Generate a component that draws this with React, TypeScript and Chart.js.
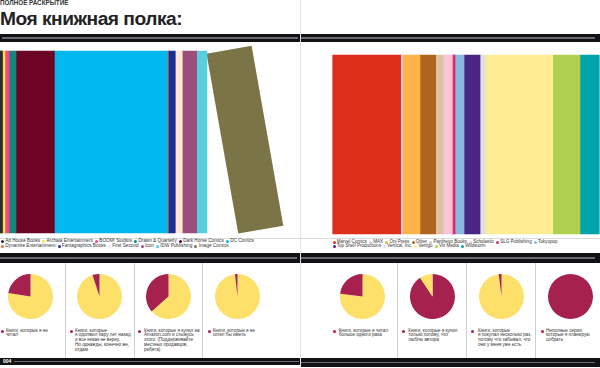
import React, { useEffect, useRef } from "react";
import { Chart, registerables } from "chart.js";
Chart.register(...registerables);

// ---------- DATA ----------
const leftLabels = ["Ad House Books", "Archaia Entertainment", "BOOM! Studios", "Drawn & Quarterly", "Dark Horse Comics", "DC Comics", "Dynamite Entertainment", "Fantagraphics Books", "First Second", "Icon", "IDW Publishing", "Image Comics"];
const leftValues = [2.5, 2.5, 4, 7, 38.3, 112.7, 1, 7, 7, 14.3, 10.3, 45];
const leftColors = ["#2b2b2b", "#f7e23c", "#ff3f8e", "#16857b", "#6b0523", "#00b7ee", "#f26a3b", "#1a2f92", "#fde8d2", "#9c4d7b", "#58cfe0", "#7a7446"];

const rightLabels = ["Marvel Comics", "MAX", "Oni Press", "Other", "Pantheon Books", "Scholastic", "SLG Publishing", "Tokyopop", "Top Shelf Productions", "Vertical, Inc.", "Vertigo", "Viz Media", "Wildstorm"];
const rightValues = [68, 2, 17.3, 15.7, 7.7, 9, 2.7, 9, 16, 5, 67.7, 27.3, 19.3];
const rightColors = ["#dd2e1a", "#d9c3e3", "#ffb347", "#b0651f", "#dcc1a5", "#ffc2d7", "#d6336c", "#88b8e2", "#4a2583", "#dde1e6", "#feec92", "#afd04f", "#00a4ad"];

const pieTexts = [
  "Книги, которые я не\nчитал",
  "Книги, которые\nя одолжил пару лет назад\nи все никак не верну.\nНо однажды, конечно же,\nотдам",
  "Книги, которые я купил на\nAmazon.com и стыжусь\nэтого. (Поддерживайте\nместных продавцов,\nребята)",
  "Книги, которые я не\nхотел бы иметь",
  "Книги, которые я читал\nбольше одного раза",
  "Книги, которые я купил\nтолько потому, что\nлюблю автора",
  "Книги, которые\nя покупал несколько раз,\nпотому что забывал, что\nони у меня уже есть",
  "Неполные серии,\nкоторые я планирую\nсобрать",
];
const pieMarked = [22.5, 5, 36.5, 1.8, 23, 90.7, 2, 100];
const pieRest = [77.5, 95, 63.5, 98.2, 77, 9.3, 98, 0];

const BURGUNDY = "#a7214f";
const YELLOW = "#fde06a";
const FONT = '"Liberation Sans", Arial, sans-serif';

// ---------- LAYOUT (positions only) ----------
const pieCenters: [number, number][] = [[30, 296], [99, 296], [168, 296], [237, 296], [362, 296], [432, 296], [501, 296], [570, 296]];
const pieLegendX: [number, number][] = [[2.7, 5.7], [71, 75], [139.3, 144], [209.3, 212.7], [334.3, 338.7], [403.7, 408.3], [472.7, 478], [542, 546]];
const separatorsX = [65, 134, 202, 397, 466, 535];

const leanPlugin = {
  id: "lean",
  beforeDatasetDraw(chart: any, args: any, opts: any) {
    if (opts == null || args.index !== opts.index) return;
    const el = args.meta.data[0];
    const p = el.getProps(["x", "base", "y", "height"], true);
    const px = Math.min(p.base, p.x);
    const py = p.y - p.height / 2;
    const ctx = chart.ctx;
    ctx.save();
    ctx.translate(px, py + (opts.drop || 0));
    ctx.rotate((-opts.angle * Math.PI) / 180);
    ctx.translate(-px, -py);
  },
  afterDatasetDraw(chart: any, args: any, opts: any) {
    if (opts == null || args.index !== opts.index) return;
    chart.ctx.restore();
  },
};

function Shelf(props: { labels: string[]; values: number[]; colors: string[]; box: any; padding: any; lean?: any }) {
  const ref = useRef<HTMLCanvasElement>(null);
  useEffect(() => {
    const total = props.values.reduce((a, b) => a + b, 0);
    const chart = new Chart(ref.current!, {
      type: "bar",
      data: {
        labels: [""],
        datasets: props.values.map((v, i) => ({
          label: props.labels[i],
          data: [v],
          backgroundColor: props.colors[i],
          borderWidth: 0,
          barPercentage: 1,
          categoryPercentage: 1,
          clip: false as any,
        })),
      },
      options: {
        indexAxis: "y",
        animation: false,
        responsive: true,
        maintainAspectRatio: false,
        layout: { padding: props.padding },
        scales: {
          x: { stacked: true, display: false, min: 0, max: total },
          y: { stacked: true, display: false },
        },
        plugins: {
          legend: { display: false },
          tooltip: { enabled: false },
          lean: props.lean || { index: -1, angle: 0 },
        } as any,
      },
      plugins: [leanPlugin as any],
    });
    return () => chart.destroy();
  }, []);
  return (
    <div style={{ position: "absolute", ...props.box }}>
      <canvas ref={ref} />
    </div>
  );
}

function Legend(props: { labels: string[]; colors: string[]; left: number; top: number; width: number; size: number }) {
  return (
    <div
      style={{
        position: "absolute",
        left: props.left,
        top: props.top,
        width: props.width,
        display: "flex",
        flexWrap: "wrap",
        fontFamily: FONT,
        fontSize: props.size,
        lineHeight: "4.7px",
        color: "#333",
        whiteSpace: "nowrap",
      }}
    >
      {props.labels.map((l, i) => (
        <span key={i} style={{ display: "inline-flex", alignItems: "center", marginRight: 2.2 }}>
          <span style={{ width: 3, height: 3, borderRadius: "50%", background: props.colors[i], marginRight: 1.2, display: "inline-block", flex: "none" }} />
          {l}
        </span>
      ))}
    </div>
  );
}

function Pie(props: { marked: number; rest: number; cx: number; cy: number }) {
  const ref = useRef<HTMLCanvasElement>(null);
  useEffect(() => {
    const slices = [
      { v: props.rest, c: YELLOW },
      { v: props.marked, c: BURGUNDY },
    ].sort((a, b) => b.v - a.v);
    const chart = new Chart(ref.current!, {
      type: "pie",
      data: {
        labels: slices.map((s) => (s.c === BURGUNDY ? "marked" : "rest")),
        datasets: [{ data: slices.map((s) => s.v), backgroundColor: slices.map((s) => s.c), borderWidth: 0 }],
      },
      options: {
        animation: false,
        responsive: true,
        maintainAspectRatio: false,
        layout: { padding: 0 },
        plugins: { legend: { display: false }, tooltip: { enabled: false } },
      },
    });
    return () => chart.destroy();
  }, []);
  const d = 45;
  return (
    <div style={{ position: "absolute", left: props.cx - d / 2, top: props.cy - d / 2, width: d, height: d }}>
      <canvas ref={ref} />
    </div>
  );
}

function Rect(p: { l: number; t: number; w: number; h: number; c: string }) {
  return <div style={{ position: "absolute", left: p.l, top: p.t, width: p.w, height: p.h, background: p.c }} />;
}

export default function App() {
  useEffect(() => {
    document.body.style.margin = "0";
  }, []);
  return (
    <div style={{ position: "fixed", left: 0, top: 0, width: 600, height: 368, background: "#fff", overflow: "hidden", fontFamily: FONT }}>
      {/* gutter & light rules */}
      <Rect l={300} t={0} w={1} h={368} c="#e4e4e4" />
      <Rect l={0} t={237.5} w={600} h={0.8} c="#dadada" />
      {/* top bands */}
      <Rect l={0} t={34} w={299.5} h={8} c="#121214" />
      <Rect l={2} t={37.4} w={296} h={1.2} c="#6a6a70" />
      <Rect l={301} t={34} w={298.5} h={8} c="#121214" />
      <Rect l={301} t={37.4} w={294} h={1.2} c="#6a6a70" />
      {/* middle bands */}
      <Rect l={0} t={253} w={299.5} h={10} c="#121214" />
      <Rect l={0} t={257.4} w={297} h={1.2} c="#6a6a70" />
      <Rect l={301} t={253} w={299} h={10} c="#121214" />
      <Rect l={301} t={257.4} w={294} h={1.2} c="#6a6a70" />
      {/* bottom bands */}
      <Rect l={0} t={358} w={299.5} h={7} c="#121214" />
      <Rect l={14} t={361} w={285} h={1} c="#6a6a70" />
      <Rect l={301} t={358} w={299} h={9} c="#121214" />
      <Rect l={301} t={362} w={294} h={1} c="#6a6a70" />
      <div style={{ position: "absolute", left: 3, top: 358, fontSize: 5, lineHeight: "6px", color: "#fff", fontWeight: "bold" }}>004</div>
      {/* pie separators */}
      {separatorsX.map((x, i) => (
        <Rect key={i} l={x} t={263} w={1} h={95} c="#cfcfcf" />
      ))}

      {/* titles */}
      <div style={{ position: "absolute", left: 0, top: 0, fontSize: 6.3, lineHeight: "6.3px", fontWeight: "bold", color: "#333" }}>ПОЛНОЕ РАСКРЫТИЕ</div>
      <div style={{ position: "absolute", left: 0, top: 8.8, fontSize: 19.2, lineHeight: "19.2px", fontWeight: "bold", color: "#222", whiteSpace: "nowrap", letterSpacing: -0.5 }}>Моя книжная полка:</div>

      {/* shelves */}
      <Shelf
        labels={leftLabels}
        values={leftValues}
        colors={leftColors}
        box={{ left: 0, top: 40, width: 300, height: 196 }}
        padding={{ left: 0, top: 11, right: 48, bottom: 3 }}
        lean={{ index: leftLabels.length - 1, angle: 10, drop: 3 }}
      />
      <Shelf
        labels={rightLabels}
        values={rightValues}
        colors={rightColors}
        box={{ left: 300, top: 40, width: 300, height: 196 }}
        padding={{ left: 32.7, top: 15, right: 0.7, bottom: 2 }}
      />
      <Legend labels={leftLabels} colors={leftColors} left={1} top={239.3} width={298} size={4.7} />
      <Legend labels={rightLabels} colors={rightColors} left={332.5} top={239.7} width={262} size={4.55} />

      {/* pies */}
      {pieMarked.map((m, i) => (
        <Pie key={i} marked={m} rest={pieRest[i]} cx={pieCenters[i][0]} cy={pieCenters[i][1]} />
      ))}
      {pieTexts.map((t, i) => (
        <React.Fragment key={i}>
          <span
            style={{ position: "absolute", left: pieLegendX[i][0] - 1.5, top: 331 - 1.5, width: 3, height: 3, borderRadius: "50%", background: BURGUNDY }}
          />
          <div
            style={{
              position: "absolute",
              left: pieLegendX[i][1],
              top: 331 - 2.45,
              fontSize: 4.6,
              lineHeight: "4.9px",
              color: "#333",
              whiteSpace: "pre",
            }}
          >
            {t}
          </div>
        </React.Fragment>
      ))}
    </div>
  );
}
